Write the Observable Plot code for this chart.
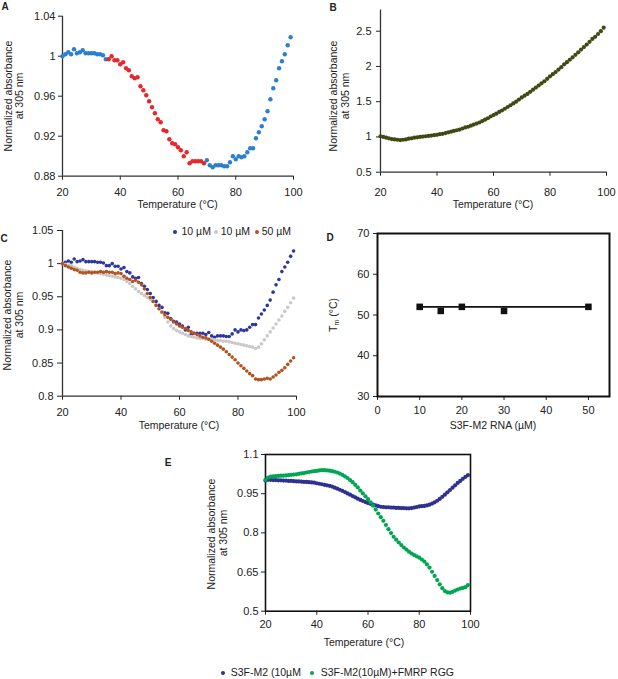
<!DOCTYPE html>
<html><head><meta charset="utf-8">
<script src="https://cdn.jsdelivr.net/npm/d3@7"></script>
<script src="https://cdn.jsdelivr.net/npm/@observablehq/plot@0.6"></script>
<style>
body{margin:0;background:#fff;}
#fig{position:relative;width:618px;height:679px;font-family:"Liberation Sans",Arial,sans-serif;color:#222;overflow:hidden;background:#fff;}
.abs{position:absolute;}
.t{position:absolute;font-size:10.5px;white-space:nowrap;line-height:1.1;}
.dot{position:absolute;width:4px;height:4px;border-radius:50%;transform:translate(-50%,-50%);}
</style></head><body><div id="fig"></div>
<script>
// ---------- data ----------
const temperature = [20,21,22,23,24,25,26,27,28,29,30,31,32,33,34,35,36,37,38,39,40,41,42,43,44,45,46,47,48,49,50,51,52,53,54,55,56,57,58,59,60,61,62,63,64,65,66,67,68,69,70,71,72,73,74,75,76,77,78,79,80,81,82,83,84,85,86,87,88,89,90,91,92,93,94,95,96,97,98,99];

// Panel A (10 µM S3F-M2); red = melting transition
const aAbs = [1.000,1.002,1.004,1.002,1.007,1.003,1.004,1.006,1.003,1.003,1.003,1.003,1.002,1.002,1.001,0.997,
  0.997,1.000,0.996,0.996,0.992,0.994,0.988,0.986,0.980,0.978,0.979,0.970,0.966,0.961,0.955,0.949,0.943,0.937,0.934,0.926,0.925,0.917,0.913,0.912,0.909,0.906,0.900,0.904,0.893,0.895,0.895,0.895,0.895,0.893,
  0.896,0.891,0.889,0.891,0.891,0.891,0.890,0.890,0.894,0.900,0.897,0.900,0.899,0.900,0.904,0.908,0.908,0.918,0.924,0.930,0.937,0.945,0.957,0.968,0.976,0.988,0.995,1.002,1.011,1.019];
const aTransition = [36, 69];

// Panel B
const bAbs = [1.01,1.00,0.99,0.98,0.97,0.965,0.96,0.955,0.96,0.965,0.975,0.98,0.99,0.995,1.0,1.005,1.01,1.015,1.02,1.025,
  1.03,1.04,1.045,1.055,1.065,1.075,1.085,1.095,1.105,1.12,1.135,1.145,1.16,1.175,1.19,1.205,1.225,1.245,1.265,1.29,
  1.31,1.33,1.355,1.375,1.40,1.425,1.45,1.475,1.50,1.53,1.56,1.585,1.61,1.64,1.67,1.70,1.73,1.76,1.79,1.825,
  1.86,1.89,1.92,1.955,1.99,2.03,2.06,2.095,2.13,2.165,2.20,2.24,2.275,2.31,2.35,2.39,2.42,2.46,2.50,2.55];

// Panel C
const cBlue10 = aAbs;
const cGray10 = [1.000,0.999,0.998,0.997,0.995,0.993,0.991,0.990,0.989,0.988,0.988,0.987,0.986,0.985,0.984,0.983,0.982,0.981,0.980,0.979,
  0.978,0.976,0.973,0.970,0.966,0.962,0.958,0.955,0.952,0.949,0.946,0.943,0.938,0.932,0.926,0.919,0.912,0.906,0.902,0.899,
  0.897,0.895,0.893,0.891,0.890,0.889,0.888,0.887,0.887,0.886,0.886,0.885,0.885,0.884,0.884,0.883,0.883,0.882,0.881,0.880,
  0.879,0.878,0.877,0.876,0.875,0.874,0.872,0.874,0.879,0.885,0.891,0.897,0.903,0.909,0.915,0.921,0.928,0.934,0.941,0.948];
const cBrown50 = [1.000,0.997,0.995,0.993,0.991,0.990,0.987,0.986,0.986,0.987,0.986,0.987,0.987,0.988,0.987,0.988,0.987,0.987,0.985,0.986,
  0.985,0.981,0.978,0.976,0.973,0.975,0.972,0.968,0.962,0.955,0.949,0.943,0.937,0.932,0.927,0.923,0.919,0.916,0.912,0.909,
  0.906,0.904,0.902,0.899,0.897,0.895,0.893,0.891,0.889,0.888,0.886,0.883,0.880,0.877,0.874,0.871,0.867,0.863,0.859,0.855,
  0.850,0.846,0.842,0.838,0.834,0.831,0.826,0.825,0.825,0.826,0.827,0.826,0.829,0.832,0.836,0.839,0.843,0.848,0.853,0.858];
const cLegend = ["10 µM","10 µM","50 µM"];

// Panel D
const dConc = [10,15,20,30,50];
const dTm = [52,51,52,51,52];
const dFitConc = [10,50];
const dFitTm = [52,52];

// Panel E
const eM2 = [1.000,1.003,1.003,1.002,1.002,1.001,1.001,1.000,1.000,0.999,0.999,0.998,0.997,0.997,0.996,0.995,0.995,0.994,0.993,0.992,
  0.990,0.988,0.986,0.984,0.982,0.980,0.977,0.973,0.969,0.965,0.961,0.956,0.951,0.946,0.941,0.936,0.931,0.926,0.922,0.918,
  0.914,0.911,0.908,0.905,0.902,0.900,0.899,0.898,0.898,0.897,0.897,0.896,0.896,0.895,0.895,0.894,0.894,0.895,0.897,0.899,
  0.901,0.902,0.903,0.905,0.908,0.912,0.917,0.923,0.930,0.938,0.946,0.955,0.964,0.973,0.982,0.991,0.999,1.007,1.014,1.021];
const eM2Rgg = [1.003,1.012,1.015,1.016,1.017,1.018,1.019,1.019,1.020,1.021,1.022,1.023,1.024,1.026,1.028,1.029,1.031,1.033,1.035,1.036,
  1.037,1.039,1.040,1.040,1.039,1.038,1.036,1.034,1.031,1.027,1.022,1.016,1.010,1.002,0.994,0.984,0.974,0.962,0.951,0.940,
  0.929,0.917,0.904,0.889,0.874,0.860,0.846,0.830,0.814,0.799,0.785,0.774,0.763,0.753,0.744,0.736,0.728,0.721,0.715,0.710,
  0.705,0.698,0.690,0.679,0.667,0.651,0.635,0.619,0.603,0.588,0.577,0.572,0.571,0.574,0.579,0.583,0.587,0.589,0.592,0.600];
const eLegend = ["S3F-M2 (10µM", "S3F-M2(10µM)+FMRP RGG"];

// tick labels
const tempTicks = [20,40,60,80,100];
const aYTicks = [0.88,0.92,0.96,1,1.04];
const bYTicks = [0.5,1,1.5,2,2.5];
const cYTicks = [0.8,0.85,0.9,0.95,1,1.05];
const dXTicks = [0,10,20,30,40,50];
const dYTicks = [30,40,50,60,70];
const eYTicks = [0.5,0.65,0.8,0.95,1.1];

const colors = {aBlue:"#2b7fd0", aRed:"#e8262b", b:"#3f4a12", cBlue:"#2c35a0", cGray:"#c9c9c9", cBrown:"#b4521f", eBlue:"#2e3192", eGreen:"#00a651"};

// ---------- helpers ----------
const fig = document.getElementById("fig");
const fmt = d => String(d);
const baseStyle = {fontFamily:'"Liberation Sans", Arial, sans-serif', fontSize:"11px", color:"#222", background:"transparent", overflow:"visible"};
function place(svg, left, top){const d=document.createElement("div");d.className="abs";d.style.left=left+"px";d.style.top=top+"px";d.appendChild(svg);fig.appendChild(d);}
function txt(html, x, y, o={}){
  const e=document.createElement("div"); e.className="t"; e.innerHTML=html;
  e.style.left=x+"px"; e.style.top=y+"px";
  if(o.size) e.style.fontSize=o.size+"px";
  if(o.bold) e.style.fontWeight="bold";
  e.style.transform = o.left ? "translate(0,-50%)" : ("translate(-50%,-50%)" + (o.rot ? " rotate(-90deg)" : ""));
  fig.appendChild(e);
}
function ldot(x,y,c){const e=document.createElement("div");e.className="dot";e.style.left=x+"px";e.style.top=y+"px";e.style.background=c;fig.appendChild(e);}
const rows = vals => temperature.map((t,i)=>({t, v: vals[i]}));

// ---------- Panel A ----------
const aRows = rows(aAbs).map(d=>({...d, phase: (d.t>=aTransition[0] && d.t<=aTransition[1]) ? "red" : "blue"}));
place(Plot.plot({
  width:300, height:200, marginLeft:62, marginRight:7, marginTop:15.7, marginBottom:24.3, style:baseStyle,
  x:{domain:[20,100], ticks:tempTicks, tickFormat:fmt, tickSize:4, tickPadding:8, label:null},
  y:{domain:[0.88,1.04], ticks:aYTicks, tickFormat:fmt, tickSize:4, tickPadding:3, label:null},
  marks:[
    Plot.ruleX([20],{stroke:"#333", strokeWidth:1.3}),
    Plot.ruleY([0.88],{stroke:"#333", strokeWidth:1.3}),
    Plot.dot(aRows,{x:"t", y:"v", r:2.2, fill:d=>d.phase==="red"?colors.aRed:colors.aBlue, stroke:"none"})
  ]
}), 0, 0);

// ---------- Panel B ----------
place(Plot.plot({
  width:318, height:200, marginLeft:80, marginRight:12, marginTop:9.55, marginBottom:28.3, style:baseStyle,
  x:{domain:[20,100], ticks:tempTicks, tickFormat:fmt, tickSize:4, tickPadding:12, label:null},
  y:{domain:[0.5,2.8], ticks:bYTicks, tickFormat:fmt, tickSize:4, tickPadding:5, label:null},
  marks:[
    Plot.ruleX([20],{stroke:"#333", strokeWidth:1.3}),
    Plot.ruleY([0.5],{stroke:"#333", strokeWidth:1.3}),
    Plot.dot(rows(bAbs),{x:"t", y:"v", r:2.1, fill:colors.b, stroke:"none"})
  ]
}), 300, 0);

// ---------- Panel C ----------
place(Plot.plot({
  width:300, height:200, marginLeft:62, marginRight:4, marginTop:10, marginBottom:24.3, style:baseStyle,
  x:{domain:[20,100], ticks:tempTicks, tickFormat:fmt, tickSize:4, tickPadding:8, label:null},
  y:{domain:[0.8,1.05], ticks:cYTicks, tickFormat:fmt, tickSize:5, tickPadding:4, label:null},
  marks:[
    Plot.ruleX([20],{stroke:"#333", strokeWidth:1.3}),
    Plot.ruleY([0.8],{stroke:"#333", strokeWidth:1.3}),
    Plot.dot(rows(cBlue10),{x:"t", y:"v", r:1.8, fill:colors.cBlue, stroke:"none"}),
    Plot.dot(rows(cGray10),{x:"t", y:"v", r:1.8, fill:colors.cGray, stroke:"none"}),
    Plot.dot(rows(cBrown50),{x:"t", y:"v", r:1.8, fill:colors.cBrown, stroke:"none"})
  ]
}), 0, 220);

// ---------- Panel D ----------
const dRows = dConc.map((c,i)=>({c, tm:dTm[i]}));
const dFit = dFitConc.map((c,i)=>({c, tm:dFitTm[i]}));
place(Plot.plot({
  width:318, height:200, marginLeft:77, marginRight:9, marginTop:13, marginBottom:24, style:baseStyle,
  x:{domain:[0,55], ticks:dXTicks, tickFormat:fmt, tickSize:4, tickPadding:6, label:null},
  y:{domain:[30,70], ticks:dYTicks, tickFormat:fmt, tickSize:4, tickPadding:4, label:null},
  marks:[
    Plot.frame({stroke:"#111", strokeWidth:2}),
    Plot.line(dFit,{x:"c", y:"tm", stroke:"#111", strokeWidth:1.6}),
    Plot.dot(dRows,{x:"c", y:"tm", symbol:"square", r:3.7, fill:"#111", stroke:"none"})
  ]
}), 300, 220);

// ---------- Panel E ----------
place(Plot.plot({
  width:290, height:200, marginLeft:65, marginRight:20, marginTop:14, marginBottom:29.3, style:baseStyle,
  x:{domain:[20,100], ticks:tempTicks, tickFormat:fmt, tickSize:4, tickPadding:5, label:null},
  y:{domain:[0.5,1.1], ticks:eYTicks, tickFormat:fmt, tickSize:4, tickPadding:3, label:null},
  marks:[
    Plot.frame({stroke:"#111", strokeWidth:1.6}),
    Plot.dot(rows(eM2),{x:"t", y:"v", r:2.1, fill:colors.eBlue, stroke:"none"}),
    Plot.dot(rows(eM2Rgg),{x:"t", y:"v", r:2.1, fill:colors.eGreen, stroke:"none"})
  ]
}), 200, 440);

// ---------- Texts ----------
const yTitle1 = "Normalized absorbance", yTitle2 = "at 305 nm", xTitle = "Temperature (°C)";
txt("A", 5, 6, {bold:true, size:10});
txt("B", 333, 7, {bold:true, size:10});
txt("C", 4, 238, {bold:true, size:10});
txt("D", 330, 237, {bold:true, size:10});
txt("E", 168, 461.5, {bold:true, size:10});

txt(yTitle1, 8.5, 96, {rot:true}); txt(yTitle2, 20, 96, {rot:true});
txt(xTitle, 177.5, 205);
txt(yTitle1, 334, 96, {rot:true}); txt(yTitle2, 346, 96, {rot:true});
txt(xTitle, 493, 205);
txt(yTitle1, 8, 315, {rot:true}); txt(yTitle2, 20, 315, {rot:true});
txt(xTitle, 179, 426);
txt("T<sub style='font-size:7px;vertical-align:-2px'>m</sub> (°C)", 333.5, 315, {rot:true});
txt("S3F-M2 RNA (µM)", 493, 426);
txt(yTitle1, 211.7, 534, {rot:true}); txt(yTitle2, 224, 533, {rot:true});
txt(xTitle, 364, 642.7);

// legend C
ldot(175, 232, colors.cBlue); txt(cLegend[0], 181.5, 232, {left:true});
ldot(216, 232, colors.cGray); txt(cLegend[1], 220.7, 232, {left:true});
ldot(256.7, 232, colors.cBrown); txt(cLegend[2], 261.7, 232, {left:true});
// legend E
ldot(222.7, 672.7, colors.eBlue); txt(eLegend[0], 230.7, 672.7, {left:true});
ldot(312.3, 672.7, colors.eGreen); txt(eLegend[1], 320.7, 672.7, {left:true});
</script></body></html>
